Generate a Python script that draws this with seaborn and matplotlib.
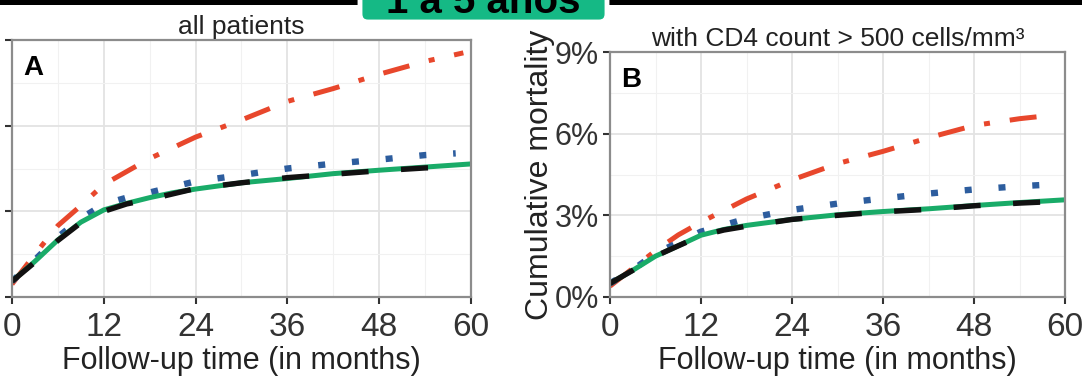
import numpy as np
import pandas as pd
import matplotlib
matplotlib.use("Agg")
import matplotlib.pyplot as plt
import seaborn as sns
from matplotlib.patches import FancyBboxPatch, Rectangle
from matplotlib.transforms import IdentityTransform
from matplotlib.ticker import FuncFormatter, MultipleLocator

# ---------------- data (cumulative mortality, %) ----------------
# Panel A: all patients
a_red_months   = [0, 3, 6, 9, 12, 18, 24, 30, 36, 42, 48, 54, 59]
a_red          = [0.45, 1.5, 2.5, 3.2, 3.94, 4.85, 5.6, 6.2, 6.85, 7.3, 7.8, 8.25, 8.55]
a_blue_months  = [0, 3, 6, 9, 12, 15, 18, 24, 30, 36, 42, 48, 54, 58]
a_blue         = [0.55, 1.3, 2.1, 2.75, 3.25, 3.48, 3.66, 4.05, 4.27, 4.5, 4.67, 4.81, 4.97, 5.03]
a_green_months = [0, 3, 6, 9, 12, 15, 18, 21, 24, 30, 36, 42, 48, 54, 60]
a_green        = [0.55, 1.25, 2.0, 2.62, 3.05, 3.28, 3.48, 3.65, 3.78, 4.0, 4.15, 4.32, 4.44, 4.55, 4.66]
a_black_months = [0, 3, 6, 9, 12, 15, 18, 24, 30, 36, 42, 48, 54, 58]
a_black        = [0.55, 1.22, 1.98, 2.6, 3.0, 3.26, 3.42, 3.8, 4.0, 4.18, 4.3, 4.42, 4.52, 4.56]

# Panel B: with CD4 count > 500 cells/mm3
b_red_months   = [0, 3, 6, 9, 12, 18, 24, 30, 36, 42, 48, 54, 58]
b_red          = [0.4, 1.05, 1.7, 2.28, 2.75, 3.6, 4.3, 4.9, 5.35, 5.85, 6.3, 6.55, 6.67]
b_blue_months  = [0, 3, 6, 9, 12, 18, 24, 30, 36, 42, 48, 54, 58]
b_blue         = [0.5, 1.0, 1.6, 2.0, 2.4, 2.88, 3.2, 3.43, 3.62, 3.8, 3.95, 4.07, 4.13]
b_green_months = [0, 3, 6, 9, 12, 15, 18, 24, 30, 36, 42, 48, 54, 60]
b_green        = [0.5, 0.98, 1.5, 1.88, 2.27, 2.48, 2.63, 2.85, 3.02, 3.14, 3.24, 3.36, 3.47, 3.57]
b_black_months = [0, 3, 6, 9, 12, 15, 18, 24, 30, 36, 42, 48, 54, 58]
b_black        = [0.5, 0.98, 1.5, 1.88, 2.25, 2.46, 2.6, 2.85, 3.0, 3.13, 3.22, 3.35, 3.45, 3.5]

x_ticks = [0, 12, 24, 36, 48, 60]
y_ticks = [0, 3, 6, 9]
panel_titles = ["all patients", "with CD4 count > 500 cells/mm³"]
panel_letters = ["A", "B"]
x_label = "Follow-up time (in months)"
y_label = "Cumulative mortality"
badge_text = "1 a 5 años"

series_order = ["red", "blue", "green", "black"]
colors = {"red": "#e8472c", "blue": "#2d5d9e", "green": "#19ab68", "black": "#111111"}
dash_map = {"red": (5.4, 4.0, 1.2, 4.0), "blue": (1.1, 4.2), "green": "", "black": (5.0, 6.0)}
widths = {"red": 3.6, "blue": 4.6, "green": 3.6, "black": 3.9}


def build(frames):
    rows = []
    for name, m, v in frames:
        rows.append(pd.DataFrame({"month": m, "mortality": v, "series": name}))
    return pd.concat(rows, ignore_index=True)


dfA = build([("red", a_red_months, a_red), ("blue", a_blue_months, a_blue),
             ("green", a_green_months, a_green), ("black", a_black_months, a_black)])
dfB = build([("red", b_red_months, b_red), ("blue", b_blue_months, b_blue),
             ("green", b_green_months, b_green), ("black", b_black_months, b_black)])

# ---------------- style ----------------
sns.set_theme(style="whitegrid")
plt.rcParams["font.family"] = ["Liberation Sans", "DejaVu Sans"]

W, H = 1082, 382
fig = plt.figure(figsize=(W / 100, H / 100), dpi=100)
fig.patch.set_facecolor("white")

axA = fig.add_axes([12 / W, (H - 297) / H, (471 - 12) / W, (297 - 40) / H])
axB = fig.add_axes([610 / W, (H - 297) / H, (1065 - 610) / W, (297 - 52) / H])

for ax, df, title, letter in [(axA, dfA, panel_titles[0], panel_letters[0]),
                              (axB, dfB, panel_titles[1], panel_letters[1])]:
    sns.lineplot(data=df, x="month", y="mortality", hue="series", style="series",
                 hue_order=series_order, style_order=series_order,
                 palette=colors, dashes=dash_map, linewidth=3.6,
                 estimator=None, sort=False, legend=False, ax=ax)
    for line, name in zip(ax.lines, series_order):
        line.set_linewidth(widths[name])
        if dash_map[name]:
            line.set_dashes(dash_map[name])
        line.set_dash_capstyle("butt")
        line.set_solid_capstyle("butt")
    ax.set_xlim(0, 60)
    ax.set_ylim(0, 9)
    ax.set_xticks(x_ticks)
    ax.set_yticks(y_ticks)
    ax.xaxis.set_minor_locator(MultipleLocator(6))
    ax.yaxis.set_minor_locator(MultipleLocator(1.5))
    ax.yaxis.set_major_formatter(FuncFormatter(lambda v, p: f"{v:.0f}%"))
    ax.grid(which="major", color="#e3e3e3", linewidth=1.3)
    ax.grid(which="minor", color="#f1f1f1", linewidth=0.8)
    ax.set_axisbelow(True)
    for s in ax.spines.values():
        s.set_visible(True)
        s.set_color("#8c8c8c")
        s.set_linewidth(1.6)
    ax.tick_params(axis="both", which="major", direction="out", length=5, width=1.5,
                   color="#333333", labelcolor="#333333", left=True, bottom=True)
    ax.tick_params(axis="x", labelsize=24, pad=6)
    ax.tick_params(axis="y", labelsize=22, pad=3)
    ax.tick_params(which="minor", length=0)
    ax.set_xlabel(x_label, fontsize=22, color="#222222", labelpad=2)
    ax.set_title(title, fontsize=19, color="#222222", pad=4)
    ax.text(0.025, 0.94, letter, transform=ax.transAxes, fontsize=20,
            fontweight="bold", color="black", ha="left", va="top")

axA.tick_params(axis="y", labelleft=False)
axA.set_ylabel("")
axB.set_ylabel(y_label, fontsize=23, color="#222222", labelpad=0)

# ---------------- top decorations ----------------
fig.patches.append(Rectangle((0, H - 4.5), W, 4.5, transform=IdentityTransform(),
                             facecolor="black", edgecolor="none", zorder=1))
fig.patches.append(FancyBboxPatch((360, H - 22), 247, 40,
                                  boxstyle="round,pad=0,rounding_size=8",
                                  transform=IdentityTransform(),
                                  facecolor="#15b985", edgecolor="white",
                                  linewidth=3.5, zorder=2))
fig.text(483.5 / W, (H - 13) / H, badge_text, fontsize=29, fontweight="bold",
         color="black", ha="center", va="baseline", zorder=3)

fig.savefig("out.png", dpi=100)
